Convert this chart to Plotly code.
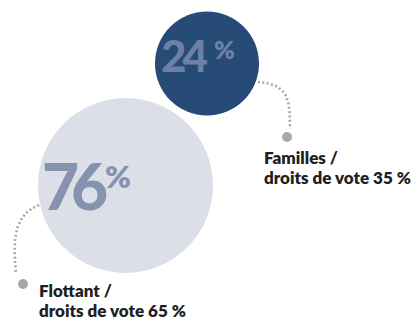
import numpy as np
import plotly.graph_objects as go

# Share of capital (bubbles) and voting rights (captions)
groups = ["Familles", "Flottant"]
capital_pct = [24, 76]
voting_pct = [35, 65]

# Layout / style of each bubble (pixel space)
bubble_center = [(207, 63.5), (125.5, 185.5)]
bubble_diam = [104, 175]
bubble_color = ["#264b77", "#dcdfe8"]
number_color = ["#6d81a4", "#8593ae"]
number_size = [44, 64]
number_track = [-4, -8]      # tight letter spacing of the big figures
number_left = [160, 41]
number_bottom = [82, 225]
pct_size = [25, 31]
pct_pos = [(224, 65), (118, 196)]
caption_top = [(263, 145.5), (38, 278.5)]
caption_lead = 20.5

W, H = 415, 320
DOT = "#a6a8ad"
FONT = "Lato"


def bezier(p0, p1, p2, p3, n=60):
    t = np.linspace(0, 1, n)[:, None]
    pts = ((1 - t) ** 3) * np.array(p0) + 3 * ((1 - t) ** 2) * t * np.array(p1) \
        + 3 * (1 - t) * t ** 2 * np.array(p2) + t ** 3 * np.array(p3)
    return pts[:, 0], pts[:, 1]


fig = go.Figure()

# bubbles, smaller one drawn on top
for i in [1, 0]:
    cx, cy = bubble_center[i]
    fig.add_trace(go.Scatter(
        x=[cx], y=[cy], mode="markers",
        marker=dict(size=bubble_diam[i], color=bubble_color[i], line=dict(width=0)),
        hoverinfo="skip", showlegend=False))

# dotted leader lines
leaders = [
    ((258, 82), (289, 84), (290, 100), (290, 129)),
    ((39, 205), (15, 214), (12, 238), (16, 273)),
]
ends = [(287, 137), (23, 284)]
for (p0, p1, p2, p3), (ex, ey) in zip(leaders, ends):
    lx, ly = bezier(p0, p1, p2, p3)
    fig.add_trace(go.Scatter(
        x=lx, y=ly, mode="lines",
        line=dict(color=DOT, width=2.6, dash="2px,2.4px"),
        hoverinfo="skip", showlegend=False))
    fig.add_trace(go.Scatter(
        x=[ex], y=[ey], mode="markers",
        marker=dict(size=10, color=DOT, line=dict(width=0)),
        hoverinfo="skip", showlegend=False))

# big percentage figures
for i in range(2):
    fig.add_annotation(x=number_left[i], y=number_bottom[i],
                       text=f"<span style='letter-spacing:{number_track[i]}px'>{capital_pct[i]}</span>",
                       showarrow=False, xanchor="left", yanchor="bottom", borderpad=0,
                       font=dict(family=FONT, size=number_size[i], color=number_color[i], weight=900))
    px, py = pct_pos[i]
    fig.add_annotation(x=px, y=py, text="%", showarrow=False,
                       xanchor="center", yanchor="bottom", borderpad=0,
                       font=dict(family=FONT, size=pct_size[i], color=number_color[i], weight=800))

# captions, two lines each with tight leading
for i in range(2):
    cx, cy = caption_top[i]
    lines = [f"{groups[i]} /", f"droits de vote {voting_pct[i]} %"]
    for k, line in enumerate(lines):
        fig.add_annotation(x=cx, y=cy + k * caption_lead, text=line,
                           showarrow=False, xanchor="left", yanchor="top", align="left", borderpad=0,
                           font=dict(family=FONT, size=17, color="#1f1f1f", weight=800))

fig.update_xaxes(range=[0, W], visible=False, fixedrange=True)
fig.update_yaxes(range=[H, 0], visible=False, fixedrange=True)
fig.update_layout(width=W, height=H, margin=dict(l=0, r=0, t=0, b=0),
                  paper_bgcolor="white", plot_bgcolor="white")

fig.write_html("out.html")
